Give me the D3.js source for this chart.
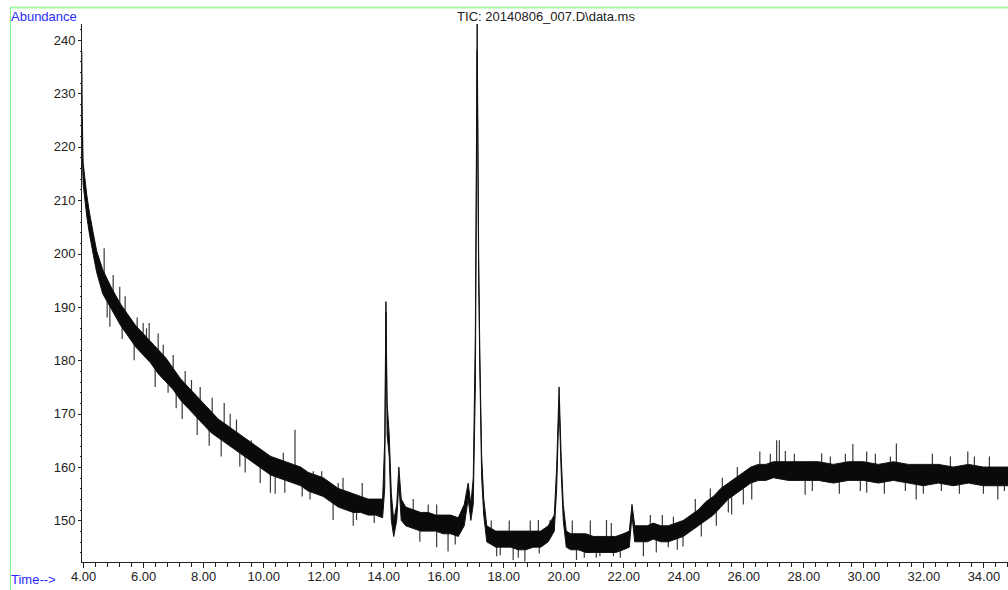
<!DOCTYPE html>
<html lang="en">
<head>
<meta charset="utf-8">
<title>TIC: 20140806_007.D\data.ms</title>
<script src="https://d3js.org/d3.v7.min.js"></script>
<style>
  body { margin: 0; background: #fff; }
  svg { display: block; }
  text { font-family: "Liberation Sans", Arial, sans-serif; font-size: 13px; }
  .axis path, .axis line { stroke: #222; shape-rendering: crispEdges; }
  .axis text { fill: #222; font-size: 13px; }
</style>
</head>
<body>
<svg id="chart" width="1008" height="590"></svg>
<script>
// chromatogram noise band: time (min), lower and upper edge
var times = [3.95, 3.97, 4.00, 4.06, 4.12, 4.20, 4.33, 4.45, 4.65, 4.95, 5.25, 5.50, 5.75,
  6.00, 6.25, 6.50, 6.75, 7.00, 7.25, 7.50, 7.75, 8.00, 8.25, 8.50, 8.75, 9.00, 9.25, 9.50, 9.75,
  10.00, 10.25, 10.50, 10.75, 11.00, 11.25, 11.50, 11.75, 12.00, 12.25, 12.50, 12.75, 13.00,
  13.25, 13.50, 13.75, 13.98, 14.05, 14.09, 14.13, 14.20, 14.27, 14.35, 14.45, 14.52, 14.60,
  14.75, 15.00, 15.25, 15.50, 15.75, 16.00, 16.25, 16.50, 16.70, 16.83, 16.92, 17.00, 17.07,
  17.13, 17.18, 17.22, 17.28, 17.35, 17.45, 17.60, 17.75, 18.00, 18.25, 18.50, 18.75, 19.00,
  19.25, 19.50, 19.70, 19.78, 19.86, 19.93, 20.00, 20.10, 20.25, 20.50, 20.75, 21.00, 21.25,
  21.50, 21.75, 22.00, 22.20, 22.29, 22.38, 22.60, 22.80, 23.00, 23.25, 23.50, 23.75, 24.00,
  24.25, 24.50, 24.75, 25.00, 25.25, 25.50, 25.75, 26.00, 26.25, 26.50, 26.75, 27.00, 27.50,
  28.00, 28.50, 29.00, 29.50, 30.00, 30.50, 31.00, 31.50, 32.00, 32.50, 33.00, 33.50, 34.00,
  34.50, 35.00];
var lower = [225, 219, 213, 210, 207, 204, 200, 196.5, 192.5, 189.5, 186.5, 184.5, 182.5,
  181, 179.5, 177.5, 176, 174.5, 172.5, 171, 169.5, 168, 166.5, 165.5, 164.5, 163.5, 162.5, 161.5, 160.5,
  159.5, 158.5, 158, 157.5, 157, 156.5, 155.5, 155, 154.5, 153.5, 152.5, 152, 151.5,
  151.5, 151, 151, 150.5, 156, 189, 166, 162, 150, 147, 150, 157, 150,
  149, 148.5, 148, 148, 148, 147.5, 147.5, 147, 149, 154, 150, 153, 175,
  238, 195, 178, 158, 151, 146, 145.5, 145, 145, 145, 144.5, 144.5, 145,
  145, 146, 148, 156, 172, 159, 150, 145, 144.5, 144.5, 144, 144, 144,
  144, 144, 144.5, 145, 151, 146, 146, 146, 146.5, 146, 146, 146.5, 147,
  148, 149, 150, 151, 152.5, 154, 155, 156, 157, 157.5, 157.5, 158, 157.5,
  157.5, 157.5, 157, 157.5, 157.5, 157, 157.5, 157, 156.5, 157, 156.5, 157, 156.5,
  156.5, 156.5];
var upper = [238, 226, 217, 214, 211, 208, 204, 200.5, 197, 193.5, 190.5, 188.5, 186.5,
  185, 183.5, 182, 180.5, 178.5, 176.5, 175, 173.5, 172, 170.5, 169, 168, 167, 166, 165, 164,
  163, 162, 161.5, 161, 160.5, 160, 159, 158.5, 158, 157, 156, 155.5, 155,
  154.5, 154, 154, 154, 165, 191, 172, 166, 155, 150, 153, 160, 154,
  152.5, 152, 151.5, 151.5, 151, 151, 151, 150.5, 153, 157, 153, 158, 185,
  243, 200, 181, 162, 154, 149, 148.5, 148, 148, 148, 148, 148, 148,
  148, 149, 151, 160, 175, 162, 153, 148, 147.5, 147.5, 147.5, 147, 147,
  147, 147, 147.5, 148, 153, 149, 149, 149, 149.5, 149, 149, 149.5, 150,
  151, 152, 153.5, 154.5, 156, 157, 158, 159, 160, 160.5, 160.5, 161, 161,
  161, 161, 160.5, 161, 161, 160.5, 161, 160.5, 160.5, 160.5, 160, 160.5, 160,
  160, 160];

// single outlying spikes seen in the trace: time, from, to
var spikeTimes = [4.70, 4.80, 4.89, 5.00, 5.22, 5.30, 5.40, 5.70, 5.80, 6.00, 6.11, 6.20,
  6.40, 6.50, 6.67, 6.83, 7.00, 7.10, 7.30, 7.40, 7.61, 7.80, 7.90, 8.20, 8.30, 8.60, 8.70,
  8.90, 9.11, 9.22, 9.40, 9.60, 9.90, 10.24, 10.40, 10.67, 10.72, 11.06, 11.30, 11.56, 11.67,
  11.95, 12.33, 12.50, 12.66, 13.00, 13.11, 13.30, 13.70, 15.00, 15.22, 15.50, 15.78, 15.90,
  16.16, 16.40, 17.60, 17.78, 17.90, 18.20, 18.33, 18.50, 18.72, 18.90, 19.17, 19.20, 19.56,
  20.30, 20.44, 20.70, 20.90, 21.10, 21.22, 21.44, 21.60, 21.67, 21.90, 22.67, 22.90, 23.10,
  23.30, 23.50, 23.67, 23.80, 23.99, 24.40, 24.60, 24.90, 25.10, 25.30, 25.50, 25.61, 25.80,
  26.00, 26.28, 26.55, 26.90, 27.11, 27.20, 27.40, 27.70, 28.06, 28.30, 28.61, 28.90, 29.20,
  29.40, 29.65, 29.90, 30.11, 30.40, 30.70, 30.90, 31.10, 31.40, 31.76, 32.00, 32.30, 32.60,
  32.90, 33.20, 33.48, 33.70, 34.00, 34.20, 34.48, 34.70];
var spikeLow = [196, 188, 186.3, 191, 189, 184, 187, 180, 184, 183, 180.7, 181,
  175, 180, 180, 173.9, 176, 171, 169, 173, 174, 166, 171, 164, 168, 162, 165,
  165, 166, 160.1, 159, 162, 157, 155.2, 155, 160, 155.2, 159, 154.5, 153.9, 157,
  157, 150.1, 154, 154, 149, 150.1, 153, 149.5, 150, 146, 149, 145, 149,
  144.2, 145.5, 146, 143.3, 143.5, 146, 142.6, 143, 142.3, 146, 146, 143.8, 147,
  146, 142.6, 143, 146, 143, 143.3, 145, 146, 143.3, 143, 143.3, 148, 144,
  148, 145, 147, 144.5, 145.1, 150, 147, 152, 149, 154, 151.5, 151.1, 156,
  153, 153.9, 158, 159, 159, 159, 159, 159, 154.8, 155.5, 158, 158.5, 155,
  158, 158, 155.5, 155.2, 158, 155, 158, 158, 155.5, 153.9, 155, 158, 155.5,
  158, 155, 158, 158, 155, 158, 153.9, 155.5];
var spikeHigh = [201, 192, 193, 196, 193.8, 188, 192, 184, 188, 187, 186, 187,
  179, 185, 182.9, 178, 181, 175, 173, 178, 176.3, 170, 175, 168, 173, 166, 172,
  170, 168.9, 165, 163, 165, 161, 161, 159, 162.7, 160, 167, 158.5, 158, 159.2,
  159.2, 155, 157, 158, 153, 154, 157, 153, 154, 151, 153, 153, 151,
  150, 149, 150, 147, 147, 150, 147, 147, 147, 150, 150.1, 147, 150.1,
  150, 146, 147, 150, 146.5, 146.5, 150.1, 149.5, 146.5, 146.5, 146.5, 151, 147,
  151, 148, 150.7, 148, 148, 154, 150, 156, 152, 158, 154, 155, 160,
  156.5, 157, 162.9, 162.5, 165, 165, 163, 162.5, 160, 159, 162.6, 162, 159,
  162.5, 164.3, 159, 162.9, 162.5, 159, 162, 164.4, 159, 160, 158.5, 162.5, 159,
  162, 158.5, 162.9, 162, 158.5, 162, 159, 159];

var xMajor = [4, 6, 8, 10, 12, 14, 16, 18, 20, 22, 24, 26, 28, 30, 32, 34];
var yMajor = [150, 160, 170, 180, 190, 200, 210, 220, 230, 240];
var title = "TIC: 20140806_007.D\\data.ms";

var svg = d3.select("#chart");

// plot box edges (note: "top" is taken by window.top)
var plotL = 81.5, plotR = 1008, plotT = 24, plotB = 562.5;

var x = d3.scaleLinear().domain([3.945, 34.82]).range([plotL, plotR]);
var y = d3.scaleLinear().domain([142.12, 243.0]).range([plotB, plotT]);

// light green frame
svg.append("line").attr("x1", 10).attr("x2", 1008).attr("y1", 7.5).attr("y2", 7.5)
  .attr("stroke", "#a8f5a8").attr("stroke-width", 2);
svg.append("line").attr("x1", 10.5).attr("x2", 10.5).attr("y1", 7).attr("y2", 590)
  .attr("stroke", "#80ee80").attr("stroke-width", 1);

// labels
svg.append("text").attr("x", 11).attr("y", 21).attr("fill", "#2a2aff").text("Abundance");
svg.append("text").attr("x", 11).attr("y", 584).attr("fill", "#2a2aff").text("Time-->");
svg.append("text").attr("x", 546).attr("y", 21).attr("text-anchor", "middle")
  .attr("fill", "#222").text(title);

// clip for the trace
svg.append("clipPath").attr("id", "plot")
  .append("rect").attr("x", plotL).attr("y", plotT).attr("width", plotR - plotL).attr("height", plotB - plotT);

var pts = times.map(function(t, i) { return { t: t, lo: lower[i], hi: upper[i] }; });

var band = d3.area()
  .x(function(d) { return x(d.t); })
  .y0(function(d) { return y(d.lo); })
  .y1(function(d) { return y(d.hi); });

var g = svg.append("g").attr("clip-path", "url(#plot)");

g.selectAll(".spike")
  .data(spikeTimes)
  .enter().append("line")
  .attr("class", "spike")
  .attr("x1", function(d) { return x(d); })
  .attr("x2", function(d) { return x(d); })
  .attr("y1", function(d, i) { return y(spikeLow[i]); })
  .attr("y2", function(d, i) { return y(spikeHigh[i]); })
  .attr("stroke", "#3a3a3a")
  .attr("stroke-width", 1.2);

g.append("path")
  .attr("d", band(pts))
  .attr("fill", "#0a0a0a")
  .attr("stroke", "#111")
  .attr("stroke-width", 1)
  .attr("stroke-linejoin", "round");

// y axis: major ticks every 10, minor every 2
var yMinor = d3.range(144, 243, 2).filter(function(v) { return v % 10 !== 0; });

svg.append("g").attr("class", "axis")
  .attr("transform", "translate(" + plotL + ",0)")
  .call(d3.axisLeft(y).tickValues(yMinor).tickSize(2).tickFormat(""))
  .call(function(a) { a.select(".domain").remove(); });

svg.append("g").attr("class", "axis")
  .attr("transform", "translate(" + plotL + ",0)")
  .call(d3.axisLeft(y).tickValues(yMajor).tickSize(4).tickPadding(2).tickFormat(d3.format("d")))
  .call(function(a) { a.select(".domain").remove(); });

svg.append("line").attr("x1", plotL).attr("x2", plotL).attr("y1", plotT).attr("y2", plotB)
  .attr("stroke", "#222").attr("shape-rendering", "crispEdges");

// x axis: major ticks every 2 min, minor every 0.4
var xMinor = d3.range(4, 34.9, 0.4).map(function(v) { return +v.toFixed(1); })
  .filter(function(v) { return Math.abs(v / 2 - Math.round(v / 2)) > 0.01; });

svg.append("g").attr("class", "axis")
  .attr("transform", "translate(0," + plotB + ")")
  .call(d3.axisBottom(x).tickValues(xMinor).tickSize(4).tickFormat(""))
  .call(function(a) { a.select(".domain").remove(); });

svg.append("g").attr("class", "axis")
  .attr("transform", "translate(0," + plotB + ")")
  .call(d3.axisBottom(x).tickValues(xMajor).tickSize(5).tickPadding(4).tickFormat(d3.format(".2f")))
  .call(function(a) { a.select(".domain").remove(); });

svg.append("line").attr("x1", plotL).attr("x2", plotR).attr("y1", plotB).attr("y2", plotB)
  .attr("stroke", "#222").attr("shape-rendering", "crispEdges");
</script>
</body>
</html>
